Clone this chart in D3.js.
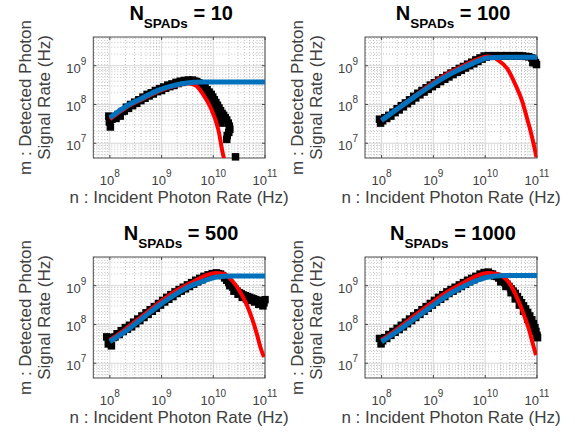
<!DOCTYPE html>
<html>
<head>
<meta charset="utf-8">
<script src="https://cdn.jsdelivr.net/npm/d3@7"></script>
<style>
  body { margin: 0; background: #fff; }
  text { font-family: "Liberation Sans", Arial, sans-serif; }
</style>
</head>
<body>
<div id="canvas"></div>
<script>
"use strict"

/* Canvas size */
let svgWidth = 575;
let svgHeight = 440;

/* Titles of the four panels */
let nSpads = [10, 100, 500, 1000];

/* Tick exponents (10^k) */
let xTickExps = [8, 9, 10, 11];
let yTickExps = [7, 8, 9];

/* All data below is log10 of the rate in Hz: [incident n, detected m] */

// black squares = measured points
let measured10 = [
    [7.98, 7.70], [7.99, 7.55], [8.01, 7.42], [8.04, 7.62], [8.08, 7.66], [8.12, 7.64], [8.16, 7.74],
    [8.20, 7.70], [8.24, 7.82], [8.28, 7.83], [8.32, 7.93], [8.36, 7.90], [8.40, 8.00], [8.44, 7.97],
    [8.48, 8.06], [8.52, 8.03], [8.56, 8.12], [8.60, 8.10], [8.64, 8.19], [8.68, 8.16], [8.72, 8.26],
    [8.76, 8.22], [8.80, 8.30], [8.84, 8.27], [8.88, 8.36], [8.92, 8.33], [8.96, 8.41], [9.00, 8.36],
    [9.04, 8.45], [9.08, 8.42], [9.12, 8.50], [9.16, 8.46], [9.20, 8.53], [9.24, 8.49], [9.28, 8.57],
    [9.32, 8.54], [9.36, 8.60], [9.40, 8.57], [9.44, 8.62], [9.48, 8.60], [9.52, 8.63], [9.56, 8.61],
    [9.60, 8.63], [9.64, 8.60], [9.68, 8.59], [9.72, 8.56], [9.76, 8.53],
    [9.80, 8.50], [9.84, 8.44], [9.88, 8.38], [9.92, 8.32], [9.96, 8.26], [9.99, 8.19], [10.02, 8.12],
    [10.05, 8.05], [10.08, 7.98], [10.11, 7.91], [10.14, 7.84], [10.17, 7.77], [10.20, 7.72], [10.23, 7.66],
    [10.26, 7.60], [10.29, 7.52], [10.31, 7.44], [10.32, 7.36], [10.30, 7.28], [10.27, 7.20], [10.26, 7.10],
    [9.84, 8.36], [9.89, 8.24], [9.93, 8.14], [9.97, 8.04], [10.01, 7.94], [10.05, 7.84], [10.09, 7.72],
    [10.12, 7.62], [10.15, 7.52], [10.43, 6.65]
];
let measured100 = [
    [7.96, 7.62], [7.98, 7.52], [8.02, 7.58], [8.06, 7.66], [8.10, 7.64], [8.14, 7.72], [8.18, 7.70],
    [8.22, 7.80], [8.26, 7.79], [8.30, 7.89], [8.34, 7.86], [8.38, 7.97], [8.42, 7.94], [8.46, 8.04],
    [8.50, 8.02], [8.54, 8.12], [8.58, 8.09], [8.62, 8.21], [8.66, 8.17], [8.70, 8.29], [8.74, 8.25],
    [8.78, 8.36], [8.82, 8.32], [8.86, 8.43], [8.90, 8.39], [8.94, 8.50], [8.98, 8.46], [9.02, 8.56],
    [9.06, 8.52], [9.10, 8.63], [9.14, 8.59], [9.18, 8.69], [9.22, 8.65], [9.26, 8.75], [9.30, 8.71],
    [9.34, 8.81], [9.38, 8.77], [9.42, 8.87], [9.46, 8.83], [9.50, 8.93], [9.54, 8.88], [9.58, 8.98],
    [9.62, 8.94], [9.66, 9.04], [9.70, 9.00], [9.74, 9.09], [9.78, 9.05], [9.82, 9.15], [9.86, 9.11],
    [9.90, 9.20], [9.94, 9.17], [9.98, 9.25], [10.02, 9.22], [10.06, 9.26], [10.12, 9.25], [10.18, 9.26],
    [10.24, 9.25], [10.30, 9.26], [10.36, 9.25], [10.42, 9.26], [10.48, 9.25], [10.54, 9.26], [10.60, 9.25],
    [10.66, 9.26], [10.72, 9.25], [10.78, 9.24], [10.84, 9.23], [10.90, 9.20], [10.94, 9.14], [10.97, 9.08],
    [10.99, 9.03], [10.92, 9.08]
];
let measured500 = [
    [7.94, 7.68], [7.97, 7.50], [8.00, 7.60], [8.03, 7.45], [8.06, 7.66], [8.10, 7.68], [8.14, 7.76],
    [8.18, 7.74], [8.22, 7.84], [8.26, 7.82], [8.30, 7.92], [8.34, 7.88], [8.38, 7.98], [8.42, 7.94],
    [8.46, 8.06], [8.50, 8.02], [8.54, 8.14], [8.58, 8.10], [8.62, 8.22], [8.66, 8.18], [8.70, 8.30],
    [8.74, 8.26], [8.78, 8.38], [8.82, 8.34], [8.86, 8.46], [8.90, 8.42], [8.94, 8.54], [8.98, 8.50],
    [9.02, 8.62], [9.06, 8.58], [9.10, 8.70], [9.14, 8.65], [9.18, 8.77], [9.22, 8.72], [9.26, 8.84],
    [9.30, 8.80], [9.34, 8.90], [9.38, 8.86], [9.42, 8.96], [9.46, 8.92], [9.50, 9.02], [9.54, 8.98],
    [9.58, 9.08], [9.62, 9.04], [9.66, 9.14], [9.70, 9.10], [9.74, 9.19], [9.78, 9.15], [9.82, 9.24],
    [9.86, 9.21], [9.90, 9.28], [9.94, 9.26], [9.98, 9.31], [10.02, 9.30], [10.06, 9.33], [10.10, 9.31],
    [10.14, 9.30], [10.18, 9.26], [10.22, 9.20], [10.26, 9.14], [10.30, 9.08], [10.34, 9.02], [10.38, 8.96],
    [10.42, 8.91], [10.46, 8.86], [10.50, 8.82], [10.54, 8.79], [10.58, 8.76], [10.62, 8.74], [10.66, 8.72],
    [10.70, 8.70], [10.74, 8.68], [10.78, 8.66], [10.82, 8.64], [10.86, 8.62], [10.90, 8.60], [10.94, 8.58],
    [10.98, 8.56], [11.00, 8.64], [10.32, 9.00], [10.40, 8.86], [10.48, 8.78], [10.56, 8.70], [10.64, 8.66],
    [10.72, 8.62], [10.80, 8.58], [10.88, 8.52], [10.96, 8.48]
];
let measured1000 = [
    [7.96, 7.64], [7.99, 7.50], [8.02, 7.58], [8.06, 7.66], [8.10, 7.64], [8.14, 7.74], [8.18, 7.72],
    [8.22, 7.82], [8.26, 7.80], [8.30, 7.90], [8.34, 7.87], [8.38, 7.98], [8.42, 7.94], [8.46, 8.06],
    [8.50, 8.02], [8.54, 8.14], [8.58, 8.10], [8.62, 8.22], [8.66, 8.18], [8.70, 8.30], [8.74, 8.26],
    [8.78, 8.38], [8.82, 8.34], [8.86, 8.46], [8.90, 8.42], [8.94, 8.54], [8.98, 8.50], [9.02, 8.62],
    [9.06, 8.58], [9.10, 8.70], [9.14, 8.65], [9.18, 8.77], [9.22, 8.72], [9.26, 8.84], [9.30, 8.80],
    [9.34, 8.90], [9.38, 8.86], [9.42, 8.96], [9.46, 8.92], [9.50, 9.02], [9.54, 8.98], [9.58, 9.08],
    [9.62, 9.04], [9.66, 9.14], [9.70, 9.10], [9.74, 9.19], [9.78, 9.15], [9.82, 9.24], [9.86, 9.21],
    [9.90, 9.30], [9.94, 9.28], [9.98, 9.34], [10.02, 9.32], [10.06, 9.35], [10.10, 9.31], [10.14, 9.30],
    [10.18, 9.25], [10.22, 9.24], [10.26, 9.20], [10.30, 9.17], [10.34, 9.13], [10.38, 9.08], [10.42, 9.04],
    [10.46, 8.98], [10.50, 8.92], [10.54, 8.86], [10.58, 8.80], [10.62, 8.72], [10.66, 8.64], [10.70, 8.56],
    [10.74, 8.48], [10.78, 8.40], [10.82, 8.31], [10.86, 8.22], [10.90, 8.12], [10.93, 8.02], [10.96, 7.92],
    [10.98, 7.82], [11.00, 7.72], [11.01, 7.66], [10.30, 9.10], [10.40, 8.98], [10.50, 8.82], [10.58, 8.66],
    [10.66, 8.50], [10.74, 8.34], [10.82, 8.14], [10.88, 7.98], [10.94, 7.82]
];

// red curves
let red10 = [
    [8.00, 7.62], [8.30, 7.91], [8.62, 8.13], [8.94, 8.34], [9.26, 8.48], [9.50, 8.54], [9.65, 8.50],
    [9.80, 8.27], [9.94, 7.94], [10.10, 7.34], [10.19, 6.70], [10.23, 6.50]
];
let red100 = [
    [8.00, 7.58], [8.31, 7.90], [8.63, 8.21], [8.96, 8.53], [9.28, 8.80], [9.60, 9.01], [9.85, 9.16],
    [10.04, 9.24], [10.15, 9.22], [10.24, 9.15], [10.43, 8.92], [10.59, 8.49], [10.72, 8.06], [10.81, 7.63],
    [10.88, 7.29], [10.94, 6.95], [10.99, 6.64]
];
let red500 = [
    [8.00, 7.60], [8.31, 7.89], [8.62, 8.21], [8.94, 8.55], [9.26, 8.85], [9.59, 9.09], [9.85, 9.26],
    [10.04, 9.33], [10.20, 9.31], [10.36, 9.14], [10.52, 8.84], [10.65, 8.50], [10.75, 8.15], [10.85, 7.72],
    [10.91, 7.42], [10.98, 7.16]
];
let red1000 = [
    [8.00, 7.60], [8.31, 7.89], [8.63, 8.22], [8.96, 8.55], [9.28, 8.85], [9.60, 9.09], [9.85, 9.26],
    [10.04, 9.33], [10.24, 9.30], [10.40, 9.17], [10.53, 8.93], [10.65, 8.58], [10.75, 8.24], [10.85, 7.85],
    [10.91, 7.55], [10.98, 7.21]
];

// blue curves
let blue10 = [
    [8.00, 7.66], [8.30, 7.94], [8.62, 8.16], [8.94, 8.37], [9.26, 8.50], [9.52, 8.56], [9.78, 8.58],
    [10.20, 8.58], [11.00, 8.58]
];
let blue100 = [
    [8.00, 7.59], [8.31, 7.89], [8.63, 8.19], [8.96, 8.49], [9.28, 8.75], [9.60, 8.96], [9.85, 9.11],
    [10.04, 9.20], [10.37, 9.22], [11.00, 9.22]
];
let blue500 = [
    [8.00, 7.56], [8.31, 7.83], [8.62, 8.15], [8.94, 8.48], [9.26, 8.77], [9.59, 9.01], [9.85, 9.14],
    [10.04, 9.22], [10.36, 9.25], [11.00, 9.25]
];
let blue1000 = [
    [8.00, 7.55], [8.31, 7.83], [8.63, 8.14], [8.96, 8.46], [9.28, 8.76], [9.60, 8.99], [9.85, 9.14],
    [10.04, 9.22], [10.37, 9.26], [11.00, 9.26]
];

let measured = [measured10, measured100, measured500, measured1000];
let reds = [red10, red100, red500, red1000];
let blues = [blue10, blue100, blue500, blue1000];

/* Panel boxes */
let colLeft = [93.3, 365];
let colRight = [265, 537];
let rowTop = [37, 257];
let rowBottom = [158, 378];

let svg = d3.select("#canvas")
    .append("svg")
    .attr("width", svgWidth)
    .attr("height", svgHeight);

svg.append("rect")
    .attr("width", svgWidth)
    .attr("height", svgHeight)
    .attr("fill", "white");

let textColor = "#404040";

for (let p = 0; p < 4; p++) {
    let col = p % 2;
    let row = Math.floor(p / 2);
    let left = colLeft[col], right = colRight[col];
    let top = rowTop[row], bottom = rowBottom[row];

    let xScale = d3.scaleLog()
        .domain([Math.pow(10, 7.68), 1e11])
        .range([left, right]);
    let yScale = d3.scaleLog()
        .domain([Math.pow(10, 6.62), Math.pow(10, 9.74)])
        .range([bottom, top]);

    let g = svg.append("g");

    // white plot area
    g.append("rect")
        .attr("x", left).attr("y", top)
        .attr("width", right - left).attr("height", bottom - top)
        .attr("fill", "white");

    // minor grid
    let xMinor = [], yMinor = [];
    for (let e = 6; e <= 10; e++) {
        for (let k = 2; k <= 9; k++) {
            let v = k * Math.pow(10, e);
            if (v > xScale.domain()[0] && v < xScale.domain()[1]) xMinor.push(v);
            if (v > yScale.domain()[0] && v < yScale.domain()[1]) yMinor.push(v);
        }
    }
    g.selectAll(".xminor").data(xMinor).join("line")
        .attr("x1", d => xScale(d)).attr("x2", d => xScale(d))
        .attr("y1", top).attr("y2", bottom)
        .attr("stroke", "#9a9a9a").attr("stroke-width", 0.6)
        .attr("stroke-dasharray", "1,2");
    g.selectAll(".yminor").data(yMinor).join("line")
        .attr("y1", d => yScale(d)).attr("y2", d => yScale(d))
        .attr("x1", left).attr("x2", right)
        .attr("stroke", "#9a9a9a").attr("stroke-width", 0.6)
        .attr("stroke-dasharray", "1,2");

    // major grid
    g.selectAll(".xmajor").data(xTickExps).join("line")
        .attr("x1", d => xScale(Math.pow(10, d))).attr("x2", d => xScale(Math.pow(10, d)))
        .attr("y1", top).attr("y2", bottom)
        .attr("stroke", "#d4d4d4").attr("stroke-width", 0.9);
    g.selectAll(".ymajor").data(yTickExps).join("line")
        .attr("y1", d => yScale(Math.pow(10, d))).attr("y2", d => yScale(Math.pow(10, d)))
        .attr("x1", left).attr("x2", right)
        .attr("stroke", "#d4d4d4").attr("stroke-width", 0.9);

    // box
    g.append("rect")
        .attr("x", left).attr("y", top)
        .attr("width", right - left).attr("height", bottom - top)
        .attr("fill", "none")
        .attr("stroke", "#4d4d4d")
        .attr("stroke-width", 1);

    // ticks (inside)
    xTickExps.forEach(function (d) {
        let x = xScale(Math.pow(10, d));
        g.append("line").attr("x1", x).attr("x2", x).attr("y1", bottom).attr("y2", bottom - 3)
            .attr("stroke", "#4d4d4d");
        g.append("line").attr("x1", x).attr("x2", x).attr("y1", top).attr("y2", top + 3)
            .attr("stroke", "#4d4d4d");
    });
    yTickExps.forEach(function (d) {
        let y = yScale(Math.pow(10, d));
        g.append("line").attr("x1", left).attr("x2", left + 3).attr("y1", y).attr("y2", y)
            .attr("stroke", "#4d4d4d");
        g.append("line").attr("x1", right).attr("x2", right - 3).attr("y1", y).attr("y2", y)
            .attr("stroke", "#4d4d4d");
    });

    // clip for the curves
    let clipId = "clip" + p;
    svg.append("clipPath").attr("id", clipId)
        .append("rect")
        .attr("x", left).attr("y", top)
        .attr("width", right - left).attr("height", bottom - top);

    // measured squares
    let size = 7.5;
    g.selectAll(".mark").data(measured[p]).join("rect")
        .attr("x", d => xScale(Math.pow(10, d[0])) - size / 2)
        .attr("y", d => yScale(Math.pow(10, d[1])) - size / 2)
        .attr("width", size).attr("height", size)
        .attr("fill", "black");

    let line = d3.line()
        .x(d => xScale(Math.pow(10, d[0])))
        .y(d => yScale(Math.pow(10, d[1])))
        .curve(d3.curveMonotoneX);

    g.append("path")
        .attr("d", line(reds[p]))
        .attr("clip-path", "url(#" + clipId + ")")
        .attr("fill", "none")
        .attr("stroke", "#ff0000")
        .attr("stroke-width", 4);

    g.append("path")
        .attr("d", line(blues[p]))
        .attr("clip-path", "url(#" + clipId + ")")
        .attr("fill", "none")
        .attr("stroke", "#0072bd")
        .attr("stroke-width", 5);

    // x tick labels
    xTickExps.forEach(function (d) {
        let t = g.append("text")
            .attr("x", xScale(Math.pow(10, d)))
            .attr("y", bottom + 27)
            .attr("text-anchor", "middle")
            .attr("fill", textColor)
            .style("font-size", "13px");
        t.append("tspan").text("10");
        t.append("tspan").attr("dy", -8).style("font-size", "10px").text(d);
    });

    // y tick labels
    yTickExps.forEach(function (d) {
        let t = g.append("text")
            .attr("x", left - 7)
            .attr("y", yScale(Math.pow(10, d)) + 7)
            .attr("text-anchor", "end")
            .attr("fill", textColor)
            .style("font-size", "13px");
        t.append("tspan").text("10");
        t.append("tspan").attr("dy", -8).style("font-size", "10px").text(d);
    });

    // x axis label
    g.append("text")
        .attr("x", (left + right) / 2)
        .attr("y", bottom + 45)
        .attr("text-anchor", "middle")
        .attr("fill", textColor)
        .style("font-size", "17px")
        .text("n : Incident Photon Rate (Hz)");

    // y axis label (two lines)
    let midY = (top + bottom) / 2;
    g.append("text")
        .attr("transform", "translate(" + (left - 62) + "," + midY + ") rotate(-90)")
        .attr("text-anchor", "middle")
        .attr("fill", textColor)
        .style("font-size", "17px")
        .text("m : Detected Photon");
    g.append("text")
        .attr("transform", "translate(" + (left - 43) + "," + midY + ") rotate(-90)")
        .attr("text-anchor", "middle")
        .attr("fill", textColor)
        .style("font-size", "17px")
        .text("Signal Rate (Hz)");

    // title
    let title = g.append("text")
        .attr("x", (left + right) / 2 + 2)
        .attr("y", top - 17)
        .attr("text-anchor", "middle")
        .attr("fill", "#000")
        .style("font-weight", "bold")
        .style("font-size", "20px");
    title.append("tspan").text("N");
    title.append("tspan").attr("dy", 8).style("font-size", "13.5px").text("SPADs");
    title.append("tspan").attr("dy", -8).text(" = " + nSpads[p]);
}
</script>
</body>
</html>
